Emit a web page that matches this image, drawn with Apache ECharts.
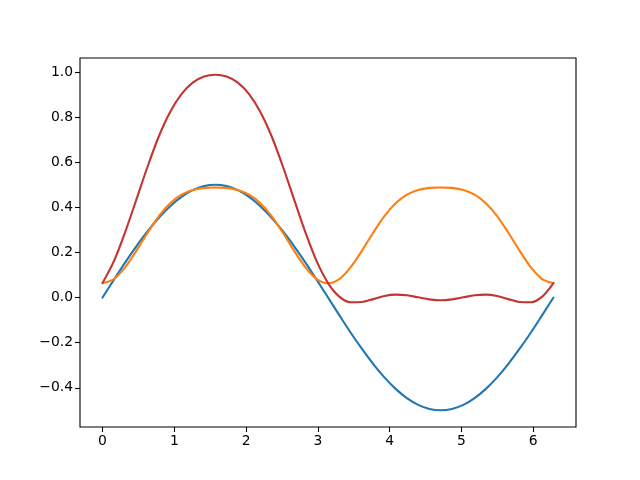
<!DOCTYPE html>
<html>
<head>
<meta charset="utf-8">
<script src="https://cdn.jsdelivr.net/npm/echarts@6/dist/echarts.min.js"></script>
<style>html,body{margin:0;padding:0;background:#fff}#c{width:640px;height:480px}</style>
</head>
<body>
<div id="c"></div>
<script>
var xValues = [0, 0.157, 0.314, 0.471, 0.628, 0.785, 0.942, 1.100, 1.257, 1.414, 1.571,
  1.728, 1.885, 2.042, 2.199, 2.356, 2.513, 2.670, 2.827, 2.985, 3.142,
  3.299, 3.456, 3.613, 3.770, 3.927, 4.084, 4.241, 4.398, 4.555, 4.712,
  4.869, 5.027, 5.184, 5.341, 5.498, 5.655, 5.812, 5.969, 6.126, 6.283];
var blueValues = [0, 0.078, 0.155, 0.227, 0.294, 0.354, 0.405, 0.446, 0.476, 0.494, 0.500,
  0.494, 0.476, 0.446, 0.405, 0.354, 0.294, 0.227, 0.155, 0.078, 0,
  -0.078, -0.155, -0.227, -0.294, -0.354, -0.405, -0.446, -0.476, -0.494, -0.500,
  -0.494, -0.476, -0.446, -0.405, -0.354, -0.294, -0.227, -0.155, -0.078, 0];
var orangeValues = [0.064, 0.082, 0.134, 0.207, 0.287, 0.361, 0.418, 0.456, 0.477, 0.486, 0.488,
  0.486, 0.477, 0.456, 0.418, 0.361, 0.287, 0.207, 0.134, 0.082, 0.064,
  0.082, 0.134, 0.207, 0.287, 0.361, 0.418, 0.456, 0.477, 0.486, 0.488,
  0.486, 0.477, 0.456, 0.418, 0.361, 0.287, 0.207, 0.134, 0.082, 0.064];
var redValues = [0.064, 0.160, 0.289, 0.434, 0.581, 0.715, 0.823, 0.902, 0.953, 0.980, 0.988,
  0.980, 0.953, 0.902, 0.823, 0.715, 0.581, 0.434, 0.289, 0.160, 0.064,
  0.004, -0.021, -0.020, -0.007, 0.007, 0.013, 0.010, 0.001, -0.008, -0.012,
  -0.008, 0.001, 0.010, 0.013, 0.007, -0.007, -0.020, -0.021, 0.004, 0.064];
var xTicks = [0, 1, 2, 3, 4, 5, 6];
var yTicks = [-0.4, -0.2, 0.0, 0.2, 0.4, 0.6, 0.8, 1.0];

function pairs(xs, ys) { return xs.map(function (x, i) { return [x, ys[i]]; }); }
var font = 'DejaVu Sans';
var chart = echarts.init(document.getElementById('c'), null, {renderer: 'canvas'});
function mkSeries(ys, color) {
  return {type: 'line', data: pairs(xValues, ys), smooth: 0.3, showSymbol: false, symbol: 'none',
    lineStyle: {color: color, width: 2.1, cap: 'round', join: 'round'}, animation: false, z: 2};
}
chart.setOption({
  animation: false,
  backgroundColor: '#fff',
  grid: {left: 80, right: 64, top: 58, bottom: 53, show: true, borderColor: '#000', borderWidth: 1.1, backgroundColor: 'transparent'},
  xAxis: {type: 'value', min: -0.314, max: 6.597,
    splitLine: {show: false}, axisLine: {show: false, onZero: false},
    axisTick: {show: true, customValues: xTicks, length: 5, inside: false, lineStyle: {color: '#000', width: 1.1}},
    axisLabel: {customValues: xTicks, color: '#000', fontSize: 13.9, fontFamily: font, margin: 7,
      formatter: function (v) { return String(Math.round(v)); }}},
  yAxis: {type: 'value', min: -0.574, max: 1.062,
    splitLine: {show: false}, axisLine: {show: false, onZero: false},
    axisTick: {show: true, customValues: yTicks, length: 5, inside: false, lineStyle: {color: '#000', width: 1.1}},
    axisLabel: {customValues: yTicks, color: '#000', fontSize: 13.9, fontFamily: font, margin: 7,
      formatter: function (v) { return v.toFixed(1).replace('-', '\u2212'); }}},
  series: [mkSeries(blueValues, '#1f77b4'), mkSeries(orangeValues, '#ff7f0e'), mkSeries(redValues, '#c23531')]
});
</script>
</body>
</html>
